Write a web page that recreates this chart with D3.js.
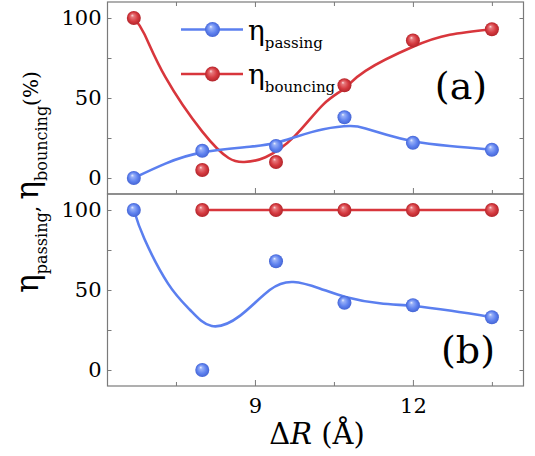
<!DOCTYPE html>
<html>
<head>
<meta charset="utf-8">
<script src="https://cdn.jsdelivr.net/npm/d3@7"></script>
<style>
body { margin: 0; background: #fff; }
</style>
</head>
<body>
<div class="chart"></div>
<script>
const width = 535, height = 456;
const fontFamily = "DejaVu Serif";

// measured points (ΔR in Å, efficiencies in %)
const dR = [6.7, 8.0, 9.4, 10.7, 12.0, 13.5];
const passingA = [0, 17, 20, 38, 22, 17.7];
const bouncingA = [100, 5, 10, 58, 86, 93];
const passingB = [100, 0, 68, 42, 40.5, 33];
const dRBounceB = [8.0, 9.4, 10.7, 12.0, 13.5];
const bouncingB = [100, 100, 100, 100, 100];

// smooth fitted curves
const fitPassingA = [[6.7,0],[7.3,9],[8.0,16],[8.9,19.5],[9.4,22],[9.8,26],[10.3,30.5],[10.8,32.5],[11.1,31],[11.5,27],[12,23],[12.7,20],[13.5,17.7]];
const fitBouncingA = [[6.7,100],[6.9,90],[7.3,63],[8.0,29],[8.5,12.5],[8.8,10],[9.2,13],[9.75,26],[10.3,46],[10.7,56],[11.1,67],[12.0,82],[12.7,89.5],[13.5,93]];
const fitPassingB = [[6.7,100],[6.9,82],[7.35,54],[7.77,37.5],[8.18,27.5],[8.72,34],[9.28,50],[9.73,55],[10.23,51],[10.74,45.5],[11.37,41.7],[12,40],[12.73,37],[13.5,33]];

const xMajor = [9, 12], xMinor = [7.5, 10.5, 13.5];
const yMajor = [0, 50, 100], yMinor = [25, 75];

const blue = "#5b7fef", red = "#d8363c", axisColor = "#7a7a7a";

const svg = d3.select(".chart")
    .append("svg")
    .attr("width", width)
    .attr("height", height)
    .attr("viewBox", [0, 0, width, height])
    .attr("font-family", fontFamily);

const defs = svg.append("defs");
function sphere(id, stops) {
    const g = defs.append("radialGradient")
        .attr("id", id)
        .attr("cx", 0.5).attr("cy", 0.5).attr("r", 0.5)
        .attr("fx", 0.38).attr("fy", 0.3);
    stops.forEach(s => g.append("stop").attr("offset", s[0]).attr("stop-color", s[1]));
}
sphere("gBlue", [[0, "#eef2ff"], [0.22, "#98b0f7"], [0.65, "#5f82ef"], [1, "#4565d4"]]);
sphere("gRed", [[0, "#fbe0e0"], [0.22, "#e6777b"], [0.65, "#d53a40"], [1, "#b2252b"]]);

const x = d3.scaleLinear().domain([6.2, 14.1]).range([107.5, 523.5]);
const yA = d3.scaleLinear().domain([-10, 110]).range([194, 2]);
const yB = d3.scaleLinear().domain([-10, 110]).range([386, 194]);

function styleLabels(a) {
    a.attr("font-family", fontFamily).attr("font-size", 21);
    a.selectAll("text").attr("fill", "#000");
}

function frame(y, labelBottom) {
    const g = svg.append("g");
    const [y0, y1] = y.range();

    // left axis, labelled
    g.append("g")
        .attr("transform", `translate(${x.range()[0]},0)`)
        .call(d3.axisLeft(y).tickValues(yMajor).tickSize(-4).tickSizeOuter(0).tickPadding(6))
        .call(styleLabels);
    g.append("g")
        .attr("transform", `translate(${x.range()[0]},0)`)
        .call(d3.axisLeft(y).tickValues(yMinor).tickSize(-4).tickSizeOuter(0).tickFormat(""));
    // right axis, inward ticks
    g.append("g")
        .attr("transform", `translate(${x.range()[1]},0)`)
        .call(d3.axisRight(y).tickValues(yMajor.concat(yMinor)).tickSize(-4).tickSizeOuter(0).tickFormat(""));

    // bottom ticks pointing up
    const bottom = g.append("g").attr("transform", `translate(0,${y0})`);
    bottom.append("g")
        .call(d3.axisBottom(x).tickValues(xMajor).tickSize(-6).tickSizeOuter(0).tickPadding(12)
            .tickFormat(labelBottom ? d3.format("d") : ""))
        .call(styleLabels);
    bottom.append("g")
        .call(d3.axisBottom(x).tickValues(xMinor).tickSize(-4).tickSizeOuter(0).tickFormat(""));

    g.selectAll(".domain").remove();
    g.selectAll(".tick line").attr("stroke", axisColor);

    svg.append("rect")
        .attr("x", x.range()[0]).attr("y", y1)
        .attr("width", x.range()[1] - x.range()[0]).attr("height", y0 - y1)
        .attr("fill", "none").attr("stroke", axisColor).attr("stroke-width", 1.2);
    return g;
}

frame(yA, false);
frame(yB, true);

// top ticks of panel (a), pointing down
const topTicks = svg.append("g").attr("transform", `translate(0,${yA.range()[1]})`);
topTicks.append("g").call(d3.axisTop(x).tickValues(xMajor).tickSize(-5).tickSizeOuter(0).tickFormat(""));
topTicks.append("g").call(d3.axisTop(x).tickValues(xMinor).tickSize(-4).tickSizeOuter(0).tickFormat(""));
topTicks.selectAll(".domain").remove();
topTicks.selectAll(".tick line").attr("stroke", axisColor);

const curve = d3.line().curve(d3.curveNatural);

function fit(pts, y, color) {
    svg.append("path")
        .datum(pts)
        .attr("d", curve.x(d => x(d[0])).y(d => y(d[1])))
        .attr("fill", "none")
        .attr("stroke", color)
        .attr("stroke-width", 2.6);
}

function dots(xs, vals, y, grad) {
    svg.append("g")
        .selectAll("circle")
        .data(vals)
        .join("circle")
        .attr("cx", (d, i) => x(xs[i]))
        .attr("cy", d => y(d))
        .attr("r", 7)
        .attr("fill", `url(#${grad})`);
}

// panel (a)
fit(fitBouncingA, yA, red);
fit(fitPassingA, yA, blue);
dots(dR, bouncingA, yA, "gRed");
dots(dR, passingA, yA, "gBlue");

// panel (b)
svg.append("path")
    .datum(d3.zip(dRBounceB, bouncingB))
    .attr("d", d3.line().x(d => x(d[0])).y(d => yB(d[1])))
    .attr("fill", "none")
    .attr("stroke", red)
    .attr("stroke-width", 2.6);
fit(fitPassingB, yB, blue);
dots(dRBounceB, bouncingB, yB, "gRed");
dots(dR, passingB, yB, "gBlue");

// legend
const legend = [
    { name: "passing", color: blue, grad: "gBlue", y: 29.5 },
    { name: "bouncing", color: red, grad: "gRed", y: 74 }
];
const lg = svg.append("g");
legend.forEach(d => {
    lg.append("line")
        .attr("x1", 181).attr("x2", 243)
        .attr("y1", d.y).attr("y2", d.y)
        .attr("stroke", d.color).attr("stroke-width", 2.6);
    lg.append("circle")
        .attr("cx", 212.5).attr("cy", d.y).attr("r", 7.5)
        .attr("fill", `url(#${d.grad})`);
    const t = lg.append("text")
        .attr("x", 248).attr("y", d.y + 10);
    t.append("tspan").attr("font-size", 28).text("η");
    t.append("tspan").attr("font-size", 15).attr("dy", 8).text(d.name);
});

// panel labels
svg.append("text").attr("x", 461).attr("y", 99)
    .attr("text-anchor", "middle").attr("font-size", 38).text("(a)");
svg.append("text").attr("x", 468).attr("y", 363)
    .attr("text-anchor", "middle").attr("font-size", 38).text("(b)");

// axis titles
const xt = svg.append("text")
    .attr("x", 317).attr("y", 444)
    .attr("text-anchor", "middle")
    .attr("font-size", 29);
xt.append("tspan").text("Δ");
xt.append("tspan").attr("font-style", "italic").text("R");
xt.append("tspan").text(" (Å)");

const yt = svg.append("text")
    .attr("transform", "translate(38,182) rotate(-90)")
    .attr("text-anchor", "middle");
yt.append("tspan").attr("font-size", 31).text("η");
yt.append("tspan").attr("font-size", 16).attr("dy", 9).text("passing");
yt.append("tspan").attr("font-size", 20).attr("dy", -9).text(", ");
yt.append("tspan").attr("font-size", 31).text("η");
yt.append("tspan").attr("font-size", 16).attr("dy", 9).text("bouncing");
yt.append("tspan").attr("font-size", 20).attr("dy", -9).text("(%)");
</script>
</body>
</html>
